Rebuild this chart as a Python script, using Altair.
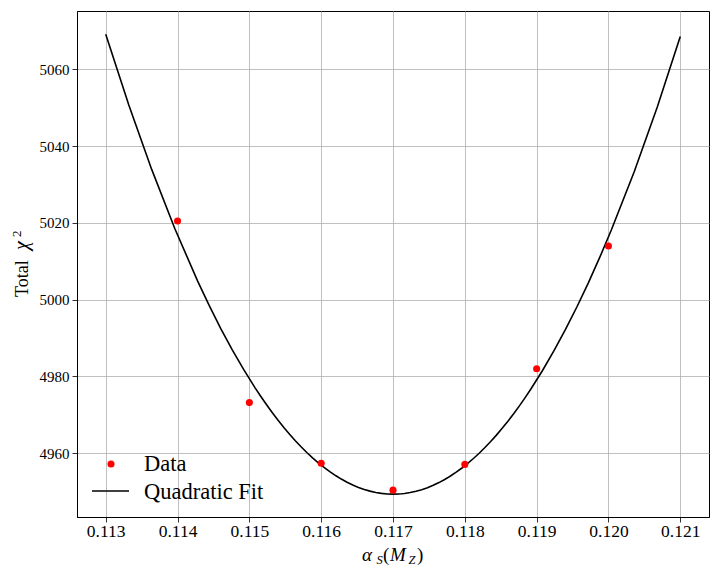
import altair as alt
import pandas as pd

# ---- data ----
alpha_s = [0.114, 0.115, 0.116, 0.117, 0.118, 0.119, 0.120]
chi2 = [5020.5, 4973.2, 4957.4, 4950.4, 4957.1, 4982.0, 5014.0]
fit_extent = [0.113, 0.121]
x_ticks = [0.113, 0.114, 0.115, 0.116, 0.117, 0.118, 0.119, 0.120, 0.121]
y_ticks = [4960, 4980, 5000, 5020, 5040, 5060]
legend_labels = ["Data", "Quadratic Fit"]

df = pd.DataFrame({"alpha_s": alpha_s, "chi2": chi2})
one = pd.DataFrame({"k": [0]})

FONT = "Liberation Serif"
W, H = 632, 506

xscale = alt.Scale(domain=[0.1126, 0.1214], nice=False, zero=False)
yscale = alt.Scale(domain=[4943.4, 5075.2], nice=False, zero=False)

xaxis = alt.Axis(
    values=x_ticks, format=".3f", title=None,
    labelFont=FONT, labelFontSize=17.5, labelColor="black",
    labelBaseline="alphabetic", labelPadding=14, labelFlush=False,
    tickColor="black", tickSize=5, tickWidth=0.8,
    domainColor="black", domainWidth=1,
    gridColor="#b0b0b0", gridWidth=0.8,
)
yaxis = alt.Axis(
    values=y_ticks, format="d", title=None,
    labelFont=FONT, labelFontSize=15, labelColor="black",
    labelPadding=3, labelFlush=False,
    tickColor="black", tickSize=5, tickWidth=0.8,
    domainColor="black", domainWidth=1,
    gridColor="#b0b0b0", gridWidth=0.8,
)

base = alt.Chart(df)

fit = base.transform_regression(
    "alpha_s", "chi2", method="poly", order=2, extent=fit_extent
).mark_line(color="black", strokeWidth=1.6).encode(
    x=alt.X("alpha_s:Q", scale=xscale, axis=xaxis),
    y=alt.Y("chi2:Q", scale=yscale, axis=yaxis),
)

pts = base.mark_point(filled=True, color="red", opacity=1, size=50, shape="circle").encode(
    x=alt.X("alpha_s:Q", scale=xscale),
    y=alt.Y("chi2:Q", scale=yscale),
)


def txt(text, x, y, size, italic=False, angle=0):
    return alt.Chart(one).mark_text(
        text=text, font=FONT, fontSize=size,
        fontStyle="italic" if italic else "normal",
        align="left", baseline="alphabetic", color="black", angle=angle,
    ).encode(x=alt.value(x), y=alt.value(y))


# legend (manual, inside plot, bottom-left)
leg_dot = alt.Chart(one).mark_point(filled=True, color="red", opacity=1, size=50, shape="circle").encode(
    x=alt.value(34), y=alt.value(453)
)
leg_line = alt.Chart(one).mark_rule(color="black", strokeWidth=1.6).encode(
    x=alt.value(15), x2=alt.value(52), y=alt.value(480)
)
leg_t1 = txt(legend_labels[0], 67, 460, 22.5)
leg_t2 = txt(legend_labels[1], 67, 487.5, 22.5)

# x-axis title: alpha_S(M_Z)
xt = [
    txt("α", 285, 550, 19, True),
    txt("S", 299.5, 552.5, 12.5, True),
    txt("(", 306, 550, 19),
    txt("M", 313, 550, 19, True),
    txt("Z", 331.5, 552.5, 12.5, True),
    txt(")", 340, 550, 19),
]

# y-axis title: Total chi^2 (rotated)
yt = [
    txt("Total", -49, 286, 18, False, 270),
    txt("χ", -49, 239, 20, True, 270),
    txt("2", -56, 226, 13, False, 270),
]

chart = alt.layer(fit, pts, leg_dot, leg_line, leg_t1, leg_t2, *xt, *yt).properties(
    width=W, height=H,
    autosize=alt.AutoSizeParams(type="none"),
    padding={"left": 69, "top": 3, "right": 3, "bottom": 51},
    background="white",
).configure_view(stroke="black", strokeWidth=1)

chart.save("out.html", embed_options={"renderer": "svg", "actions": False})
